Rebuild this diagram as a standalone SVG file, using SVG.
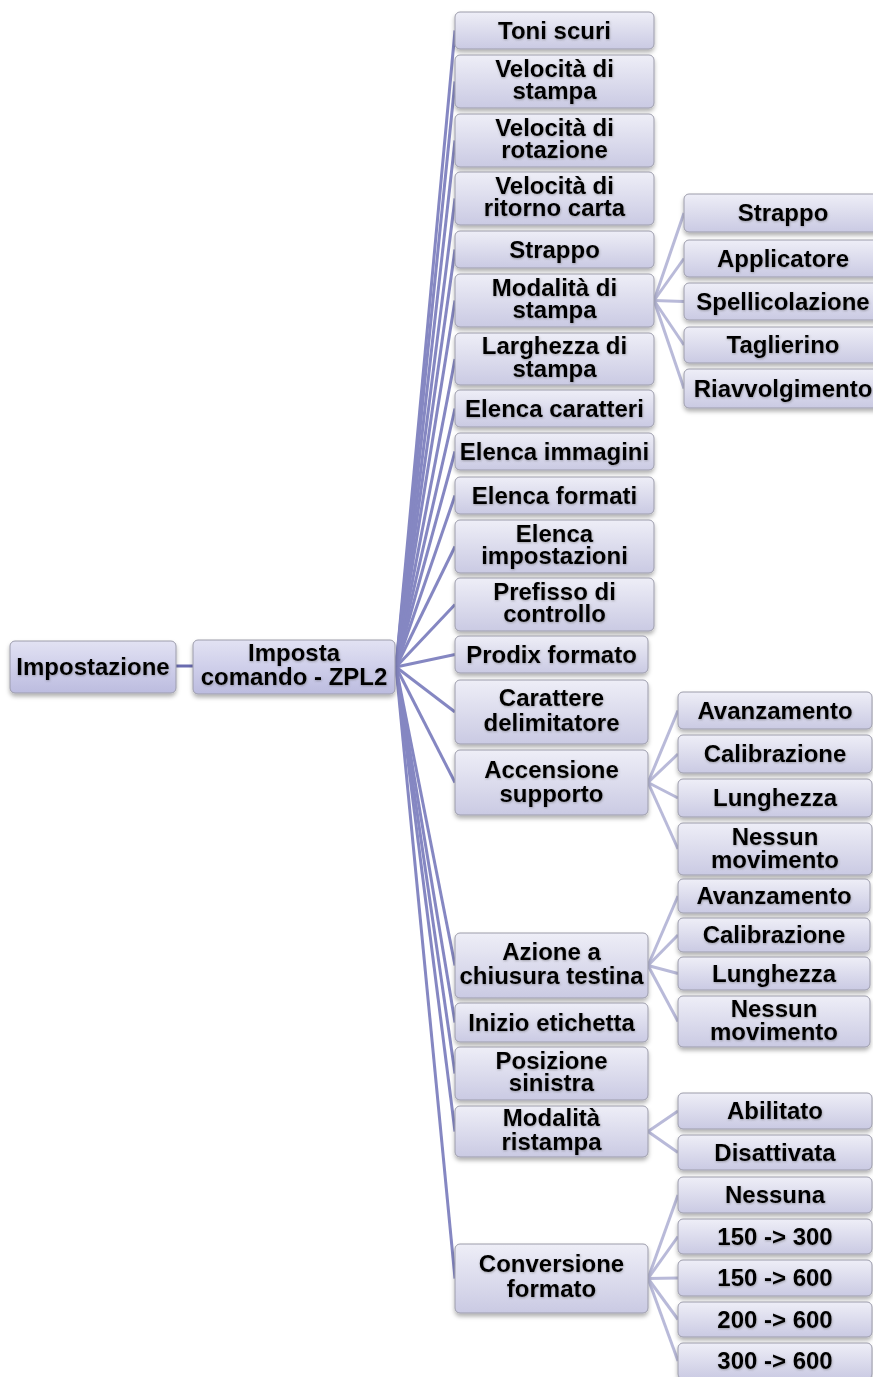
<svg xmlns="http://www.w3.org/2000/svg" width="873" height="1377" viewBox="0 0 873 1377">
<defs>
<linearGradient id="g" x1="0" y1="0" x2="0" y2="1">
<stop offset="0" stop-color="#eeeef7"/>
<stop offset="0.5" stop-color="#dcdced"/>
<stop offset="1" stop-color="#cacae3"/>
</linearGradient>
<linearGradient id="g0" x1="0" y1="0" x2="0" y2="1">
<stop offset="0" stop-color="#e2e2f3"/>
<stop offset="0.5" stop-color="#cfcfea"/>
<stop offset="1" stop-color="#bcbcdf"/>
</linearGradient>
<filter id="sh" x="-10%" y="-20%" width="120%" height="150%">
<feDropShadow dx="0" dy="3" stdDeviation="2" flood-color="#000" flood-opacity="0.3"/>
</filter>
<filter id="ts" x="-5%" y="-20%" width="110%" height="150%">
<feDropShadow dx="0.5" dy="1" stdDeviation="1" flood-color="#555" flood-opacity="0.45"/>
</filter>
</defs>
<style>
.n rect{fill:url(#g);stroke:#9c9cab;stroke-width:1;filter:url(#sh)}
.r rect{fill:url(#g0)}
.n text{font-family:"Liberation Sans",Arial,sans-serif;font-weight:bold;font-size:24px;fill:#000;text-anchor:middle;filter:url(#ts)}
.c1{stroke:#8587c2;stroke-width:3;fill:none}
.c2{stroke:#b9bad9;stroke-width:3;fill:none}
.c0{stroke:#6a6cb0;stroke-width:3;fill:none}
</style>
<rect width="873" height="1377" fill="#fff"/>
<g id="connectors">
<line class="c0" x1="176" y1="666" x2="193" y2="666"/>
<line class="c1" x1="396" y1="667" x2="455" y2="30.5"/>
<line class="c1" x1="396" y1="667" x2="455" y2="81.5"/>
<line class="c1" x1="396" y1="667" x2="455" y2="140.5"/>
<line class="c1" x1="396" y1="667" x2="455" y2="198.5"/>
<line class="c1" x1="396" y1="667" x2="455" y2="249.5"/>
<line class="c1" x1="396" y1="667" x2="455" y2="300.5"/>
<line class="c1" x1="396" y1="667" x2="455" y2="359"/>
<line class="c1" x1="396" y1="667" x2="455" y2="408.5"/>
<line class="c1" x1="396" y1="667" x2="455" y2="451.5"/>
<line class="c1" x1="396" y1="667" x2="455" y2="495.5"/>
<line class="c1" x1="396" y1="667" x2="455" y2="546.5"/>
<line class="c1" x1="396" y1="667" x2="455" y2="604.5"/>
<line class="c1" x1="396" y1="667" x2="455" y2="654.5"/>
<line class="c1" x1="396" y1="667" x2="455" y2="712"/>
<line class="c1" x1="396" y1="667" x2="455" y2="782.5"/>
<line class="c1" x1="396" y1="667" x2="455" y2="965.5"/>
<line class="c1" x1="396" y1="667" x2="455" y2="1022.5"/>
<line class="c1" x1="396" y1="667" x2="455" y2="1073.5"/>
<line class="c1" x1="396" y1="667" x2="455" y2="1131.5"/>
<line class="c1" x1="396" y1="667" x2="455" y2="1278.5"/>
<line class="c2" x1="654" y1="300.5" x2="684" y2="213"/>
<line class="c2" x1="654" y1="300.5" x2="684" y2="258.5"/>
<line class="c2" x1="654" y1="300.5" x2="684" y2="301.5"/>
<line class="c2" x1="654" y1="300.5" x2="684" y2="345"/>
<line class="c2" x1="654" y1="300.5" x2="684" y2="388.5"/>
<line class="c2" x1="648" y1="782.5" x2="678" y2="710.5"/>
<line class="c2" x1="648" y1="782.5" x2="678" y2="754"/>
<line class="c2" x1="648" y1="782.5" x2="678" y2="798"/>
<line class="c2" x1="648" y1="782.5" x2="678" y2="849"/>
<line class="c2" x1="648" y1="965.5" x2="678" y2="896"/>
<line class="c2" x1="648" y1="965.5" x2="678" y2="935"/>
<line class="c2" x1="648" y1="965.5" x2="678" y2="973.5"/>
<line class="c2" x1="648" y1="965.5" x2="678" y2="1021.5"/>
<line class="c2" x1="648" y1="1131.5" x2="678" y2="1111"/>
<line class="c2" x1="648" y1="1131.5" x2="678" y2="1152.5"/>
<line class="c2" x1="648" y1="1278.5" x2="678" y2="1195"/>
<line class="c2" x1="648" y1="1278.5" x2="678" y2="1236.5"/>
<line class="c2" x1="648" y1="1278.5" x2="678" y2="1278"/>
<line class="c2" x1="648" y1="1278.5" x2="678" y2="1319.5"/>
<line class="c2" x1="648" y1="1278.5" x2="678" y2="1361"/>
</g>
<g id="n-impostazione" class="n r"><rect x="10" y="641" width="166" height="52" rx="5"/><text x="93" y="675">Impostazione</text></g>
<g id="n-imposta" class="n r"><rect x="193" y="640" width="202" height="54" rx="5"/><text x="294" y="661">Imposta<tspan x="294" dy="24">comando - ZPL2</tspan></text></g>
<g id="n-toni" class="n"><rect x="455" y="12" width="199" height="37" rx="5"/><text x="554.5" y="38.5">Toni scuri</text></g>
<g id="n-vstampa" class="n"><rect x="455" y="55" width="199" height="53" rx="5"/><text x="554.5" y="76.5">Velocità di<tspan x="554.5" dy="22.5">stampa</tspan></text></g>
<g id="n-vrot" class="n"><rect x="455" y="114" width="199" height="53" rx="5"/><text x="554.5" y="135.5">Velocità di<tspan x="554.5" dy="22.5">rotazione</tspan></text></g>
<g id="n-vrit" class="n"><rect x="455" y="172" width="199" height="53" rx="5"/><text x="554.5" y="193.5">Velocità di<tspan x="554.5" dy="22.5">ritorno carta</tspan></text></g>
<g id="n-strappo" class="n"><rect x="455" y="231" width="199" height="37" rx="5"/><text x="554.5" y="257.5">Strappo</text></g>
<g id="n-modstampa" class="n"><rect x="455" y="274" width="199" height="53" rx="5"/><text x="554.5" y="295.5">Modalità di<tspan x="554.5" dy="22.5">stampa</tspan></text></g>
<g id="n-larghezza" class="n"><rect x="455" y="333" width="199" height="52" rx="5"/><text x="554.5" y="354">Larghezza di<tspan x="554.5" dy="22.5">stampa</tspan></text></g>
<g id="n-ecar" class="n"><rect x="455" y="390" width="199" height="37" rx="5"/><text x="554.5" y="416.5">Elenca caratteri</text></g>
<g id="n-eimm" class="n"><rect x="455" y="433" width="199" height="37" rx="5"/><text x="554.5" y="459.5">Elenca immagini</text></g>
<g id="n-efor" class="n"><rect x="455" y="477" width="199" height="37" rx="5"/><text x="554.5" y="503.5">Elenca formati</text></g>
<g id="n-eimp" class="n"><rect x="455" y="520" width="199" height="53" rx="5"/><text x="554.5" y="541.5">Elenca<tspan x="554.5" dy="22.5">impostazioni</tspan></text></g>
<g id="n-prefisso" class="n"><rect x="455" y="578" width="199" height="53" rx="5"/><text x="554.5" y="599.5">Prefisso di<tspan x="554.5" dy="22.5">controllo</tspan></text></g>
<g id="n-prodix" class="n"><rect x="455" y="636" width="193" height="37" rx="5"/><text x="551.5" y="662.5">Prodix formato</text></g>
<g id="n-carattere" class="n"><rect x="455" y="680" width="193" height="64" rx="5"/><text x="551.5" y="706">Carattere<tspan x="551.5" dy="25">delimitatore</tspan></text></g>
<g id="n-accensione" class="n"><rect x="455" y="750" width="193" height="65" rx="5"/><text x="551.5" y="778">Accensione<tspan x="551.5" dy="24">supporto</tspan></text></g>
<g id="n-azione" class="n"><rect x="455" y="933" width="193" height="65" rx="5"/><text x="551.5" y="960">Azione a<tspan x="551.5" dy="24">chiusura testina</tspan></text></g>
<g id="n-inizio" class="n"><rect x="455" y="1003" width="193" height="39" rx="5"/><text x="551.5" y="1030.5">Inizio etichetta</text></g>
<g id="n-posizione" class="n"><rect x="455" y="1047" width="193" height="53" rx="5"/><text x="551.5" y="1068.5">Posizione<tspan x="551.5" dy="22.5">sinistra</tspan></text></g>
<g id="n-modristampa" class="n"><rect x="455" y="1106" width="193" height="51" rx="5"/><text x="551.5" y="1126">Modalità<tspan x="551.5" dy="24">ristampa</tspan></text></g>
<g id="n-conversione" class="n"><rect x="455" y="1244" width="193" height="69" rx="5"/><text x="551.5" y="1272">Conversione<tspan x="551.5" dy="25">formato</tspan></text></g>
<g id="n-ms-strappo" class="n"><rect x="684" y="194" width="200" height="38" rx="5"/><text x="783" y="221">Strappo</text></g>
<g id="n-ms-applicatore" class="n"><rect x="684" y="240" width="200" height="37" rx="5"/><text x="783" y="266.5">Applicatore</text></g>
<g id="n-ms-spell" class="n"><rect x="684" y="283" width="200" height="37" rx="5"/><text x="783" y="309.5">Spellicolazione</text></g>
<g id="n-ms-tagl" class="n"><rect x="684" y="327" width="200" height="36" rx="5"/><text x="783" y="353">Taglierino</text></g>
<g id="n-ms-riavv" class="n"><rect x="684" y="369" width="200" height="39" rx="5"/><text x="783" y="396.5">Riavvolgimento</text></g>
<g id="n-as-avanz" class="n"><rect x="678" y="692" width="194" height="37" rx="5"/><text x="775" y="718.5">Avanzamento</text></g>
<g id="n-as-calib" class="n"><rect x="678" y="735" width="194" height="38" rx="5"/><text x="775" y="762">Calibrazione</text></g>
<g id="n-as-lungh" class="n"><rect x="678" y="779" width="194" height="38" rx="5"/><text x="775" y="806">Lunghezza</text></g>
<g id="n-as-nessun" class="n"><rect x="678" y="823" width="194" height="52" rx="5"/><text x="775" y="845">Nessun<tspan x="775" dy="23">movimento</tspan></text></g>
<g id="n-ac-avanz" class="n"><rect x="678" y="879" width="192" height="34" rx="5"/><text x="774" y="904">Avanzamento</text></g>
<g id="n-ac-calib" class="n"><rect x="678" y="918" width="192" height="34" rx="5"/><text x="774" y="943">Calibrazione</text></g>
<g id="n-ac-lungh" class="n"><rect x="678" y="957" width="192" height="33" rx="5"/><text x="774" y="981.5">Lunghezza</text></g>
<g id="n-ac-nessun" class="n"><rect x="678" y="996" width="192" height="51" rx="5"/><text x="774" y="1016.5">Nessun<tspan x="774" dy="23.5">movimento</tspan></text></g>
<g id="n-mr-abil" class="n"><rect x="678" y="1093" width="194" height="36" rx="5"/><text x="775" y="1119">Abilitato</text></g>
<g id="n-mr-dis" class="n"><rect x="678" y="1135" width="194" height="35" rx="5"/><text x="775" y="1160.5">Disattivata</text></g>
<g id="n-cf-nessuna" class="n"><rect x="678" y="1177" width="194" height="36" rx="5"/><text x="775" y="1203">Nessuna</text></g>
<g id="n-cf-150-300" class="n"><rect x="678" y="1219" width="194" height="35" rx="5"/><text x="775" y="1244.5">150 -&gt; 300</text></g>
<g id="n-cf-150-600" class="n"><rect x="678" y="1260" width="194" height="36" rx="5"/><text x="775" y="1286">150 -&gt; 600</text></g>
<g id="n-cf-200-600" class="n"><rect x="678" y="1302" width="194" height="35" rx="5"/><text x="775" y="1327.5">200 -&gt; 600</text></g>
<g id="n-cf-300-600" class="n"><rect x="678" y="1343" width="194" height="36" rx="5"/><text x="775" y="1369">300 -&gt; 600</text></g>
</svg>
